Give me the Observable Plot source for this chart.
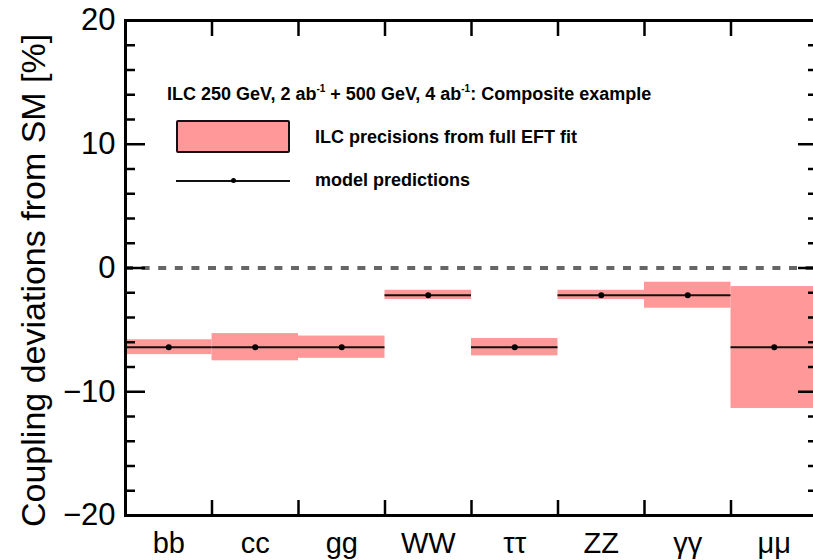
<!DOCTYPE html>
<html><head><meta charset="utf-8">
<script src="https://cdn.jsdelivr.net/npm/d3@7"></script>
<script src="https://cdn.jsdelivr.net/npm/@observablehq/plot@0.6"></script>
<style>
html,body{margin:0;padding:0;background:#fff;overflow:hidden;}
#wrap{position:relative;width:813px;height:560px;font-family:"Liberation Sans",Arial,Helvetica,sans-serif;}
.ov{position:absolute;white-space:nowrap;color:#000;line-height:1;}
.leg{font-weight:bold;font-size:18px;}
.leg sup{font-size:10px;vertical-align:8px;line-height:0;}
#ylabel{font-size:34px;transform-origin:0 0;transform:rotate(-90deg);}
</style></head><body><div id="wrap"></div>
<script>
const categories = ["bb", "cc", "gg", "WW", "ττ", "ZZ", "γγ", "μμ"];
const predictions = [-6.4, -6.4, -6.4, -2.2, -6.4, -2.2, -2.2, -6.4];
const bandLow  = [-7.0, -7.5, -7.3, -2.55, -7.1, -2.55, -3.25, -11.35];
const bandHigh = [-5.8, -5.3, -5.5, -1.8, -5.7, -1.8, -1.15, -1.5];
const yMajorTicks = [-20, -10, 0, 10, 20];
const yMinorTicks = [-18, -16, -14, -12, -8, -6, -4, -2, 2, 4, 6, 8, 12, 14, 16, 18];
const xBinEdges = [0, 1, 2, 3, 4, 5, 6, 7, 8];
const yAxisLabel = "Coupling deviations from SM [%]";
const legendTitle = "ILC 250 GeV, 2 ab<sup>-1</sup> + 500 GeV, 4 ab<sup>-1</sup>: Composite example";
const legendLabels = ["ILC precisions from full EFT fit", "model predictions"];

const data = categories.map((c, i) => ({c, i, pred: predictions[i], lo: bandLow[i], hi: bandHigh[i]}));
const blank = () => "";
const minus = d => d < 0 ? "\u2212" + (-d) : String(d);

const chart = Plot.plot({
  width: 813, height: 560,
  marginLeft: 125, marginRight: -4, marginTop: 20, marginBottom: 45,
  x: {domain: [0, 8]},
  y: {domain: [-20, 20]},
  style: {fontFamily: "'Liberation Sans', Arial, Helvetica, sans-serif", background: "white", color: "black"},
  marks: [
    Plot.rect(data, {x1: d => d.i, x2: d => d.i + 1, y1: "lo", y2: "hi", fill: "#ff9999"}),
    Plot.ruleY([0], {stroke: "#666", strokeWidth: 4, strokeDasharray: "8,8.6"}),
    Plot.ruleY(data, {y: "pred", x1: d => d.i, x2: d => d.i + 1, stroke: "#111", strokeWidth: 2}),
    Plot.dot(data, {x: d => d.i + 0.5, y: "pred", r: 3, fill: "#000"}),
    Plot.axisY(yMajorTicks, {anchor: "left", tickSize: 0, tickPadding: 10, fontSize: 31, tickFormat: minus, label: null}),
    Plot.axisY(yMajorTicks, {anchor: "left", tickSize: -20, strokeWidth: 2.5, tickFormat: blank, label: null}),
    Plot.axisY(yMinorTicks, {anchor: "left", tickSize: -10, strokeWidth: 2.5, tickFormat: blank, label: null}),
    Plot.axisY(yMajorTicks, {anchor: "right", tickSize: -20, strokeWidth: 2.5, tickFormat: blank, label: null}),
    Plot.axisY(yMinorTicks, {anchor: "right", tickSize: -10, strokeWidth: 2.5, tickFormat: blank, label: null}),
    Plot.axisX(xBinEdges, {anchor: "top", tickSize: -15, strokeWidth: 2.5, tickFormat: blank, label: null}),
    Plot.axisX(xBinEdges, {anchor: "bottom", tickSize: -15, strokeWidth: 2.5, tickFormat: blank, label: null}),
    Plot.axisX(categories.map((c, i) => i + 0.5), {anchor: "bottom", tickSize: 0, tickPadding: 17, fontSize: 29, tickFormat: d => categories[Math.floor(d)], label: null}),
    Plot.frame({stroke: "#000", strokeWidth: 3})
  ]
});
const wrap = document.getElementById("wrap");
wrap.appendChild(chart);

function ov(html, left, top, cls) {
  const el = document.createElement("div");
  el.className = "ov " + (cls || "");
  el.innerHTML = html;
  el.style.left = left + "px";
  el.style.top = top + "px";
  wrap.appendChild(el);
  return el;
}
ov(legendTitle, 167, 85, "leg");
const sw = ov("", 176, 120);
sw.style.width = "110px"; sw.style.height = "29px";
sw.style.background = "#ff9999"; sw.style.border = "2px solid #111"; sw.style.borderRadius = "2px";
ov(legendLabels[0], 315, 128, "leg");
const ln = ov("", 176, 180);
ln.style.width = "114px"; ln.style.height = "2px"; ln.style.background = "#111";
const dt = ov("", 231, 178);
dt.style.width = "5px"; dt.style.height = "5px"; dt.style.background = "#000"; dt.style.borderRadius = "50%";
ov(legendLabels[1], 315, 171, "leg");
const yl = ov(yAxisLabel, 16, 527);
yl.id = "ylabel";
</script></body></html>
